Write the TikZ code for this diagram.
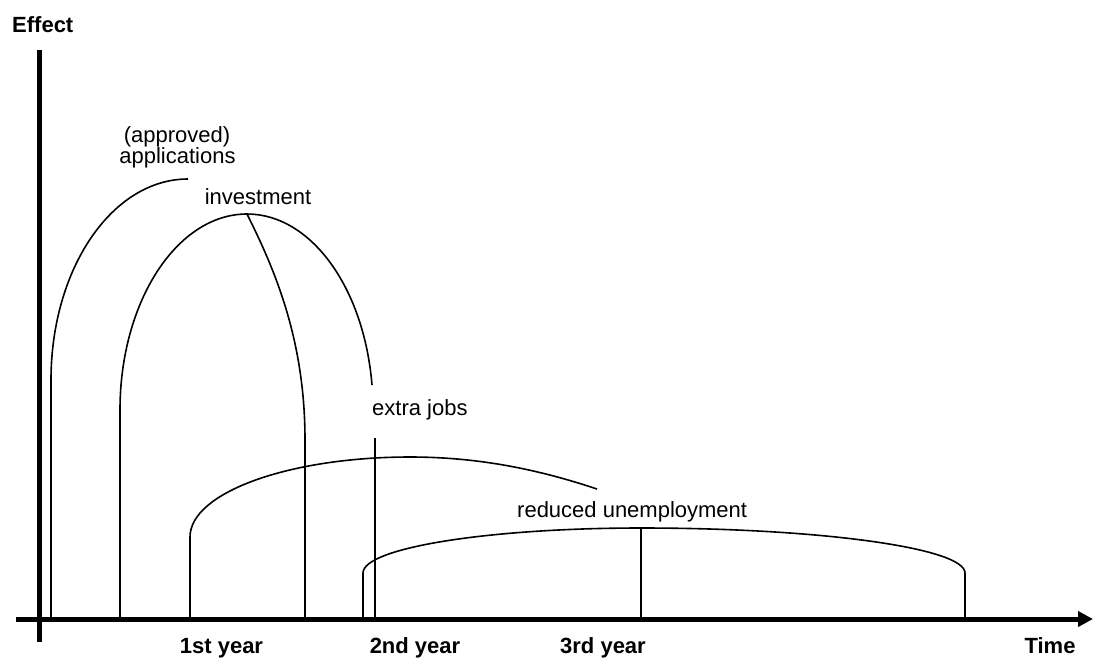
\documentclass[tikz,border=0pt]{standalone}
\usepackage{fontspec}
\setmainfont{Liberation Sans}
\usetikzlibrary{arrows.meta}
\begin{document}
\begin{tikzpicture}[x=1pt,y=-1pt,
  curve/.style={line width=1.6pt,line cap=butt},
  axis/.style={line width=5pt},
  lbl/.style={inner sep=0pt,font=\fontsize{22}{26}\selectfont},
  blbl/.style={inner sep=0pt,font=\fontsize{22}{26}\selectfont\bfseries}]
\useasboundingbox (0,0) rectangle (1093,657);
% coordinates
\coordinate (yb) at (39.5,642);
\coordinate (yt) at (39.5,50);
\coordinate (xl) at (16,619);
\coordinate (xr) at (1093,619);
% applications
\coordinate (a0) at (51,619);
\coordinate (a1) at (51,380);
\coordinate (atop) at (188,179);
% investment
\coordinate (i0) at (120,619);
\coordinate (i1) at (120,410);
\coordinate (itop) at (247,214);
\coordinate (iend) at (372,385);
\coordinate (e1) at (305,440);
\coordinate (e0) at (305,619);
% extra jobs
\coordinate (j1) at (375,438);
\coordinate (j0) at (375,619);
% reduced unemployment 1
\coordinate (r0) at (190,619);
\coordinate (r1) at (190,537);
\coordinate (rtop) at (410,457);
\coordinate (rend) at (597,489);
% reduced unemployment 2
\coordinate (s0) at (363,619);
\coordinate (s1) at (363,573);
\coordinate (stop) at (641,528);
\coordinate (s2) at (965,573);
\coordinate (s3) at (965,619);
\coordinate (t0) at (641,619);

% axes
\draw[axis] (yb) -- (yt);
\draw[axis,-{Triangle[length=15pt,width=15pt]}] (xl) -- (xr);

% curves
\draw[curve] (a0) -- (a1) .. controls (51,269) and (112,179) .. (atop);
\draw[curve] (i0) -- (i1) .. controls (120,301.7) and (177,214) .. (itop)
  .. controls (310.5,214) and (364,287) .. (iend);
\draw[curve] (itop) .. controls (275,270) and (305,340) .. (e1) -- (e0);
\draw[curve] (j1) -- (j0);
\draw[curve] (r0) -- (r1) .. controls (190,492.8) and (288.5,457) .. (rtop)
  .. controls (480,457) and (540,470) .. (rend);
\draw[curve] (s0) -- (s1) .. controls (363,548) and (487.5,528) .. (stop)
  .. controls (820,528) and (965,548) .. (s2) -- (s3);
\draw[curve] (stop) -- (t0);

% labels
\node[blbl,anchor=base west] (effect) at (12,32.5) {Effect};
\node[lbl,anchor=base] (appr) at (177,142.5) {(approved)};
\node[lbl,anchor=base] (appl) at (177.5,163) {applications};
\node[lbl,anchor=base] (inv) at (258,204.5) {investment};
\node[lbl,anchor=base west] (jobs) at (372,415) {extra jobs};
\node[lbl,anchor=base west] (ru) at (517,517) {reduced unemployment};
\node[blbl,anchor=base] (y1) at (221.5,653) {1st year};
\node[blbl,anchor=base] (y2) at (415,653) {2nd year};
\node[blbl,anchor=base] (y3) at (603,653) {3rd year};
\node[blbl,anchor=base] (time) at (1050,653) {Time};
\end{tikzpicture}
\end{document}
